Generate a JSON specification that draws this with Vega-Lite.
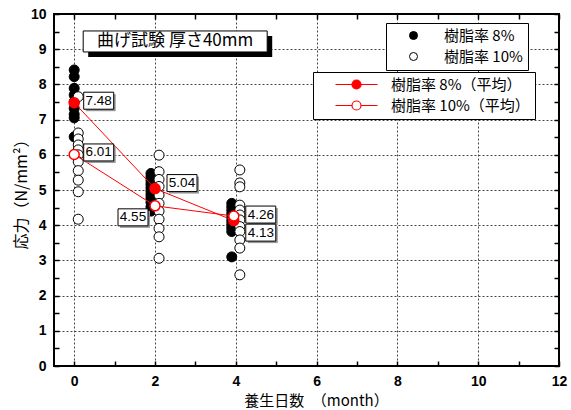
{
  "$schema": "https://vega.github.io/schema/vega-lite/v6.json",
  "width": 505,
  "height": 352,
  "autosize": {"type": "none"},
  "padding": {"left": 54, "top": 14, "right": 12, "bottom": 44},
  "background": "white",
  "config": {"view": {"stroke": "black", "strokeWidth": 2}, "font": "Noto Sans CJK JP"},
  "datasets": {
    "raw": [
      {"month": 0, "stress": 8.41, "series": "樹脂率 8%"},
      {"month": 0, "stress": 8.22, "series": "樹脂率 8%"},
      {"month": 0, "stress": 7.89, "series": "樹脂率 8%"},
      {"month": 0, "stress": 7.70, "series": "樹脂率 8%"},
      {"month": 0, "stress": 7.51, "series": "樹脂率 8%"},
      {"month": 0, "stress": 7.32, "series": "樹脂率 8%"},
      {"month": 0, "stress": 7.15, "series": "樹脂率 8%"},
      {"month": 0, "stress": 7.05, "series": "樹脂率 8%"},
      {"month": 0, "stress": 6.51, "series": "樹脂率 8%"},
      {"month": 1.9, "stress": 5.47, "series": "樹脂率 8%"},
      {"month": 1.9, "stress": 5.37, "series": "樹脂率 8%"},
      {"month": 1.9, "stress": 5.27, "series": "樹脂率 8%"},
      {"month": 1.9, "stress": 5.17, "series": "樹脂率 8%"},
      {"month": 1.9, "stress": 5.07, "series": "樹脂率 8%"},
      {"month": 1.9, "stress": 4.97, "series": "樹脂率 8%"},
      {"month": 1.9, "stress": 4.87, "series": "樹脂率 8%"},
      {"month": 1.9, "stress": 4.77, "series": "樹脂率 8%"},
      {"month": 1.9, "stress": 4.65, "series": "樹脂率 8%"},
      {"month": 1.9, "stress": 4.52, "series": "樹脂率 8%"},
      {"month": 1.9, "stress": 4.40, "series": "樹脂率 8%"},
      {"month": 3.9, "stress": 4.62, "series": "樹脂率 8%"},
      {"month": 3.9, "stress": 4.52, "series": "樹脂率 8%"},
      {"month": 3.9, "stress": 4.42, "series": "樹脂率 8%"},
      {"month": 3.9, "stress": 4.32, "series": "樹脂率 8%"},
      {"month": 3.9, "stress": 4.22, "series": "樹脂率 8%"},
      {"month": 3.9, "stress": 4.12, "series": "樹脂率 8%"},
      {"month": 3.9, "stress": 4.02, "series": "樹脂率 8%"},
      {"month": 3.9, "stress": 3.92, "series": "樹脂率 8%"},
      {"month": 3.9, "stress": 3.82, "series": "樹脂率 8%"},
      {"month": 3.9, "stress": 3.10, "series": "樹脂率 8%"},
      {"month": 0.1, "stress": 7.65, "series": "樹脂率 10%"},
      {"month": 0.1, "stress": 6.62, "series": "樹脂率 10%"},
      {"month": 0.1, "stress": 6.45, "series": "樹脂率 10%"},
      {"month": 0.1, "stress": 6.28, "series": "樹脂率 10%"},
      {"month": 0.1, "stress": 6.14, "series": "樹脂率 10%"},
      {"month": 0.1, "stress": 6.00, "series": "樹脂率 10%"},
      {"month": 0.1, "stress": 5.80, "series": "樹脂率 10%"},
      {"month": 0.1, "stress": 5.55, "series": "樹脂率 10%"},
      {"month": 0.1, "stress": 5.28, "series": "樹脂率 10%"},
      {"month": 0.1, "stress": 4.95, "series": "樹脂率 10%"},
      {"month": 0.1, "stress": 4.17, "series": "樹脂率 10%"},
      {"month": 2.1, "stress": 5.99, "series": "樹脂率 10%"},
      {"month": 2.1, "stress": 5.52, "series": "樹脂率 10%"},
      {"month": 2.1, "stress": 5.30, "series": "樹脂率 10%"},
      {"month": 2.1, "stress": 5.10, "series": "樹脂率 10%"},
      {"month": 2.1, "stress": 4.86, "series": "樹脂率 10%"},
      {"month": 2.1, "stress": 4.62, "series": "樹脂率 10%"},
      {"month": 2.1, "stress": 4.40, "series": "樹脂率 10%"},
      {"month": 2.1, "stress": 4.17, "series": "樹脂率 10%"},
      {"month": 2.1, "stress": 3.91, "series": "樹脂率 10%"},
      {"month": 2.1, "stress": 3.67, "series": "樹脂率 10%"},
      {"month": 2.1, "stress": 3.06, "series": "樹脂率 10%"},
      {"month": 4.1, "stress": 5.57, "series": "樹脂率 10%"},
      {"month": 4.1, "stress": 5.20, "series": "樹脂率 10%"},
      {"month": 4.1, "stress": 5.09, "series": "樹脂率 10%"},
      {"month": 4.1, "stress": 4.57, "series": "樹脂率 10%"},
      {"month": 4.1, "stress": 4.43, "series": "樹脂率 10%"},
      {"month": 4.1, "stress": 4.29, "series": "樹脂率 10%"},
      {"month": 4.1, "stress": 4.15, "series": "樹脂率 10%"},
      {"month": 4.1, "stress": 3.96, "series": "樹脂率 10%"},
      {"month": 4.1, "stress": 3.82, "series": "樹脂率 10%"},
      {"month": 4.1, "stress": 3.58, "series": "樹脂率 10%"},
      {"month": 4.1, "stress": 3.35, "series": "樹脂率 10%"},
      {"month": 4.1, "stress": 2.59, "series": "樹脂率 10%"}
    ],
    "means": [
      {"month": 0, "stress": 7.48, "series": "樹脂率 8%（平均）"},
      {"month": 2, "stress": 5.04, "series": "樹脂率 8%（平均）"},
      {"month": 3.95, "stress": 4.13, "series": "樹脂率 8%（平均）"},
      {"month": 0, "stress": 6.01, "series": "樹脂率 10%（平均）"},
      {"month": 2, "stress": 4.55, "series": "樹脂率 10%（平均）"},
      {"month": 3.95, "stress": 4.26, "series": "樹脂率 10%（平均）"}
    ],
    "caption": [{"text": "曲げ試験 厚さ40mm"}]
  },
  "resolve": {
    "scale": {"fill": "independent", "shape": "independent"},
    "axis": {"x": "independent", "y": "independent"}
  },
  "layer": [
    {
      "data": {"name": "raw"},
      "mark": {"type": "point", "shape": "circle", "filled": true, "size": 100, "stroke": "black", "strokeWidth": 1, "opacity": 1},
      "encoding": {
        "x": {
          "field": "month", "type": "quantitative",
          "scale": {"domain": [-0.5, 12], "nice": false, "zero": false},
          "axis": {
            "orient": "bottom",
            "values": [0, 1, 2, 3, 4, 5, 6, 7, 8, 9, 10, 11, 12],
            "labelExpr": "datum.value % 2 === 0 ? format(datum.value, 'd') : ''",
            "labelFlush": false, "labelOverlap": false,
            "domain": false,
            "grid": true, "gridColor": "#444", "gridDash": [2, 2], "gridWidth": 1,
            "gridOpacity": {"condition": {"test": "datum.value % 2 === 0 && datum.value < 12", "value": 1}, "value": 0},
            "ticks": true, "tickSize": -5, "tickColor": "black", "tickWidth": 1.5,
            "labelFont": "Liberation Sans", "labelFontWeight": "bold", "labelFontSize": 14, "labelColor": "black", "labelPadding": 13,
            "title": "養生日数　（month）", "titleFont": "Noto Sans CJK JP", "titleFontSize": 15, "titleFontWeight": "normal", "titleColor": "black", "titlePadding": 5, "titleX": 262
          }
        },
        "y": {
          "field": "stress", "type": "quantitative",
          "scale": {"domain": [0, 10], "nice": false, "zero": false},
          "axis": {
            "orient": "left",
            "values": [0, 0.5, 1, 1.5, 2, 2.5, 3, 3.5, 4, 4.5, 5, 5.5, 6, 6.5, 7, 7.5, 8, 8.5, 9, 9.5, 10],
            "labelExpr": "datum.value % 1 === 0 ? format(datum.value, 'd') : ''",
            "labelFlush": false, "labelOverlap": false,
            "domain": false,
            "grid": true, "gridColor": "#444", "gridDash": [2, 2], "gridWidth": 1,
            "gridOpacity": {"condition": {"test": "datum.value % 1 === 0 && datum.value > 0 && datum.value < 10", "value": 1}, "value": 0},
            "ticks": true, "tickSize": -5, "tickColor": "black", "tickWidth": 1.5,
            "labelFont": "Liberation Sans", "labelFontWeight": "bold", "labelFontSize": 14, "labelColor": "black", "labelPadding": 13,
            "title": "応力（N/mm²）", "titleFont": "Noto Sans CJK JP", "titleFontSize": 16, "titleFontWeight": "normal", "titleColor": "black", "titlePadding": 1
          }
        },
        "fill": {
          "field": "series", "type": "nominal", "sort": null,
          "scale": {"domain": ["樹脂率 8%", "樹脂率 10%"], "range": ["black", "white"]},
          "legend": {
            "title": null, "orient": "none", "legendX": 332, "legendY": 9, "direction": "vertical",
            "fillColor": "white", "strokeColor": "black", "padding": 5,
            "symbolType": "circle", "symbolSize": 64, "symbolStrokeColor": "black", "symbolStrokeWidth": 1, "symbolOffset": 15,
            "labelFont": "Noto Sans CJK JP", "labelFontSize": 15, "labelColor": "black", "labelOffset": 23, "rowPadding": 5,
            "labelExpr": "datum.label + '\u2002\u2009'"
          }
        }
      }
    },
    {
      "data": {"name": "means"},
      "mark": {"type": "line", "color": "red", "strokeWidth": 1},
      "encoding": {
        "x": {
          "field": "month", "type": "quantitative",
          "axis": {"orient": "top", "values": [0, 1, 2, 3, 4, 5, 6, 7, 8, 9, 10, 11, 12], "labels": false, "domain": false, "grid": false, "tickSize": -5, "tickColor": "black", "tickWidth": 1.5, "title": null}
        },
        "y": {
          "field": "stress", "type": "quantitative",
          "axis": {"orient": "right", "values": [0, 0.5, 1, 1.5, 2, 2.5, 3, 3.5, 4, 4.5, 5, 5.5, 6, 6.5, 7, 7.5, 8, 8.5, 9, 9.5, 10], "labels": false, "domain": false, "grid": false, "tickSize": -5, "tickColor": "black", "tickWidth": 1.5, "title": null}
        },
        "detail": {"field": "series", "type": "nominal"}
      }
    },
    {
      "data": {"name": "means"},
      "mark": {"type": "point", "shape": "circle", "filled": true, "size": 100, "stroke": "red", "strokeWidth": 1.5, "opacity": 1},
      "encoding": {
        "x": {"field": "month", "type": "quantitative", "axis": null},
        "y": {"field": "stress", "type": "quantitative", "axis": null},
        "fill": {
          "field": "series", "type": "nominal", "sort": null,
          "scale": {"domain": ["樹脂率 8%（平均）", "樹脂率 10%（平均）"], "range": ["red", "white"]},
          "legend": {
            "title": null, "orient": "none", "legendX": 259, "legendY": 58, "direction": "vertical",
            "fillColor": "white", "strokeColor": "black", "padding": 5,
            "symbolType": "M-21,0H-4.5M4.5,0H21M-4.5,0A4.5,4.5 0 1,1 4.5,0A4.5,4.5 0 1,1 -4.5,0Z",
            "symbolSize": 4, "symbolStrokeColor": "red", "symbolStrokeWidth": 1.2, "symbolOffset": 31,
            "labelFont": "Noto Sans CJK JP", "labelFontSize": 15, "labelColor": "black", "labelOffset": 27, "rowPadding": 5,
            "labelExpr": "datum.label + '\u2002\u2009'"
          }
        }
      }
    },
    {
      "data": {"name": "means"},
      "mark": {"type": "point", "filled": true, "fill": "#999", "strokeWidth": 0, "size": 4, "opacity": 1},
      "encoding": {
        "x": {"field": "month", "type": "quantitative", "axis": null},
        "y": {"field": "stress", "type": "quantitative", "axis": null},
        "shape": {
          "field": "stress", "type": "nominal", "legend": null,
          "scale": {"domain": [7.48, 6.01, 5.04, 4.55, 4.26, 4.13],
            "range": ["M11.5,-8.5H41.5V8.5H11.5Z", "M11.5,-8.5H41.5V8.5H11.5Z", "M14,-12H44V5H14Z", "M-35,5H-5V22H-35Z", "M14,-8H44V9H14Z", "M14,5.5H44V22.5H14Z"]}
        }
      }
    },
    {
      "data": {"name": "means"},
      "mark": {"type": "point", "filled": true, "fill": "white", "stroke": "black", "strokeWidth": 1, "size": 4, "opacity": 1},
      "encoding": {
        "x": {"field": "month", "type": "quantitative", "axis": null},
        "y": {"field": "stress", "type": "quantitative", "axis": null},
        "shape": {
          "field": "stress", "type": "nominal", "legend": null,
          "scale": {"domain": [7.48, 6.01, 5.04, 4.55, 4.26, 4.13],
            "range": ["M9.5,-10.5H39.5V6.5H9.5Z", "M9.5,-10.5H39.5V6.5H9.5Z", "M12,-14H42V3H12Z", "M-37,3H-7V20H-37Z", "M12,-10H42V7H12Z", "M12,3.5H42V20.5H12Z"]}
        }
      }
    },
    {
      "data": {"name": "means"},
      "transform": [{"filter": "datum.stress === 7.48 || datum.stress === 6.01"}],
      "mark": {"type": "text", "dx": 24.5, "dy": -2, "font": "Liberation Sans", "fontSize": 13.5, "align": "center", "baseline": "middle", "color": "black"},
      "encoding": {
        "x": {"field": "month", "type": "quantitative", "axis": null},
        "y": {"field": "stress", "type": "quantitative", "axis": null},
        "text": {"field": "stress", "type": "quantitative", "format": ".2f"}
      }
    },
    {
      "data": {"name": "means"},
      "transform": [{"filter": "datum.stress === 5.04"}],
      "mark": {"type": "text", "dx": 27, "dy": -5.5, "font": "Liberation Sans", "fontSize": 13.5, "align": "center", "baseline": "middle", "color": "black"},
      "encoding": {
        "x": {"field": "month", "type": "quantitative", "axis": null},
        "y": {"field": "stress", "type": "quantitative", "axis": null},
        "text": {"field": "stress", "type": "quantitative", "format": ".2f"}
      }
    },
    {
      "data": {"name": "means"},
      "transform": [{"filter": "datum.stress === 4.55"}],
      "mark": {"type": "text", "dx": -22, "dy": 11.5, "font": "Liberation Sans", "fontSize": 13.5, "align": "center", "baseline": "middle", "color": "black"},
      "encoding": {
        "x": {"field": "month", "type": "quantitative", "axis": null},
        "y": {"field": "stress", "type": "quantitative", "axis": null},
        "text": {"field": "stress", "type": "quantitative", "format": ".2f"}
      }
    },
    {
      "data": {"name": "means"},
      "transform": [{"filter": "datum.stress === 4.26"}],
      "mark": {"type": "text", "dx": 27, "dy": -1.5, "font": "Liberation Sans", "fontSize": 13.5, "align": "center", "baseline": "middle", "color": "black"},
      "encoding": {
        "x": {"field": "month", "type": "quantitative", "axis": null},
        "y": {"field": "stress", "type": "quantitative", "axis": null},
        "text": {"field": "stress", "type": "quantitative", "format": ".2f"}
      }
    },
    {
      "data": {"name": "means"},
      "transform": [{"filter": "datum.stress === 4.13"}],
      "mark": {"type": "text", "dx": 27, "dy": 12, "font": "Liberation Sans", "fontSize": 13.5, "align": "center", "baseline": "middle", "color": "black"},
      "encoding": {
        "x": {"field": "month", "type": "quantitative", "axis": null},
        "y": {"field": "stress", "type": "quantitative", "axis": null},
        "text": {"field": "stress", "type": "quantitative", "format": ".2f"}
      }
    },
    {
      "data": {"name": "caption"},
      "mark": {"type": "point", "filled": true, "fill": "black", "strokeWidth": 0, "size": 4, "opacity": 1, "shape": "M-87,-5.5H97V15.5H-87Z"},
      "encoding": {
        "x": {"datum": 2.5, "type": "quantitative", "axis": null},
        "y": {"datum": 9.22, "type": "quantitative", "axis": null}
      }
    },
    {
      "data": {"name": "caption"},
      "mark": {"type": "point", "filled": true, "fill": "white", "stroke": "black", "strokeWidth": 1, "size": 4, "opacity": 1, "shape": "M-92,-10.5H92V10.5H-92Z"},
      "encoding": {
        "x": {"datum": 2.5, "type": "quantitative", "axis": null},
        "y": {"datum": 9.22, "type": "quantitative", "axis": null}
      }
    },
    {
      "data": {"name": "caption"},
      "mark": {"type": "text", "font": "Noto Sans CJK JP", "fontSize": 17, "align": "center", "baseline": "middle", "color": "black"},
      "encoding": {
        "x": {"datum": 2.5, "type": "quantitative", "axis": null},
        "y": {"datum": 9.22, "type": "quantitative", "axis": null},
        "text": {"field": "text", "type": "nominal"}
      }
    }
  ]
}
